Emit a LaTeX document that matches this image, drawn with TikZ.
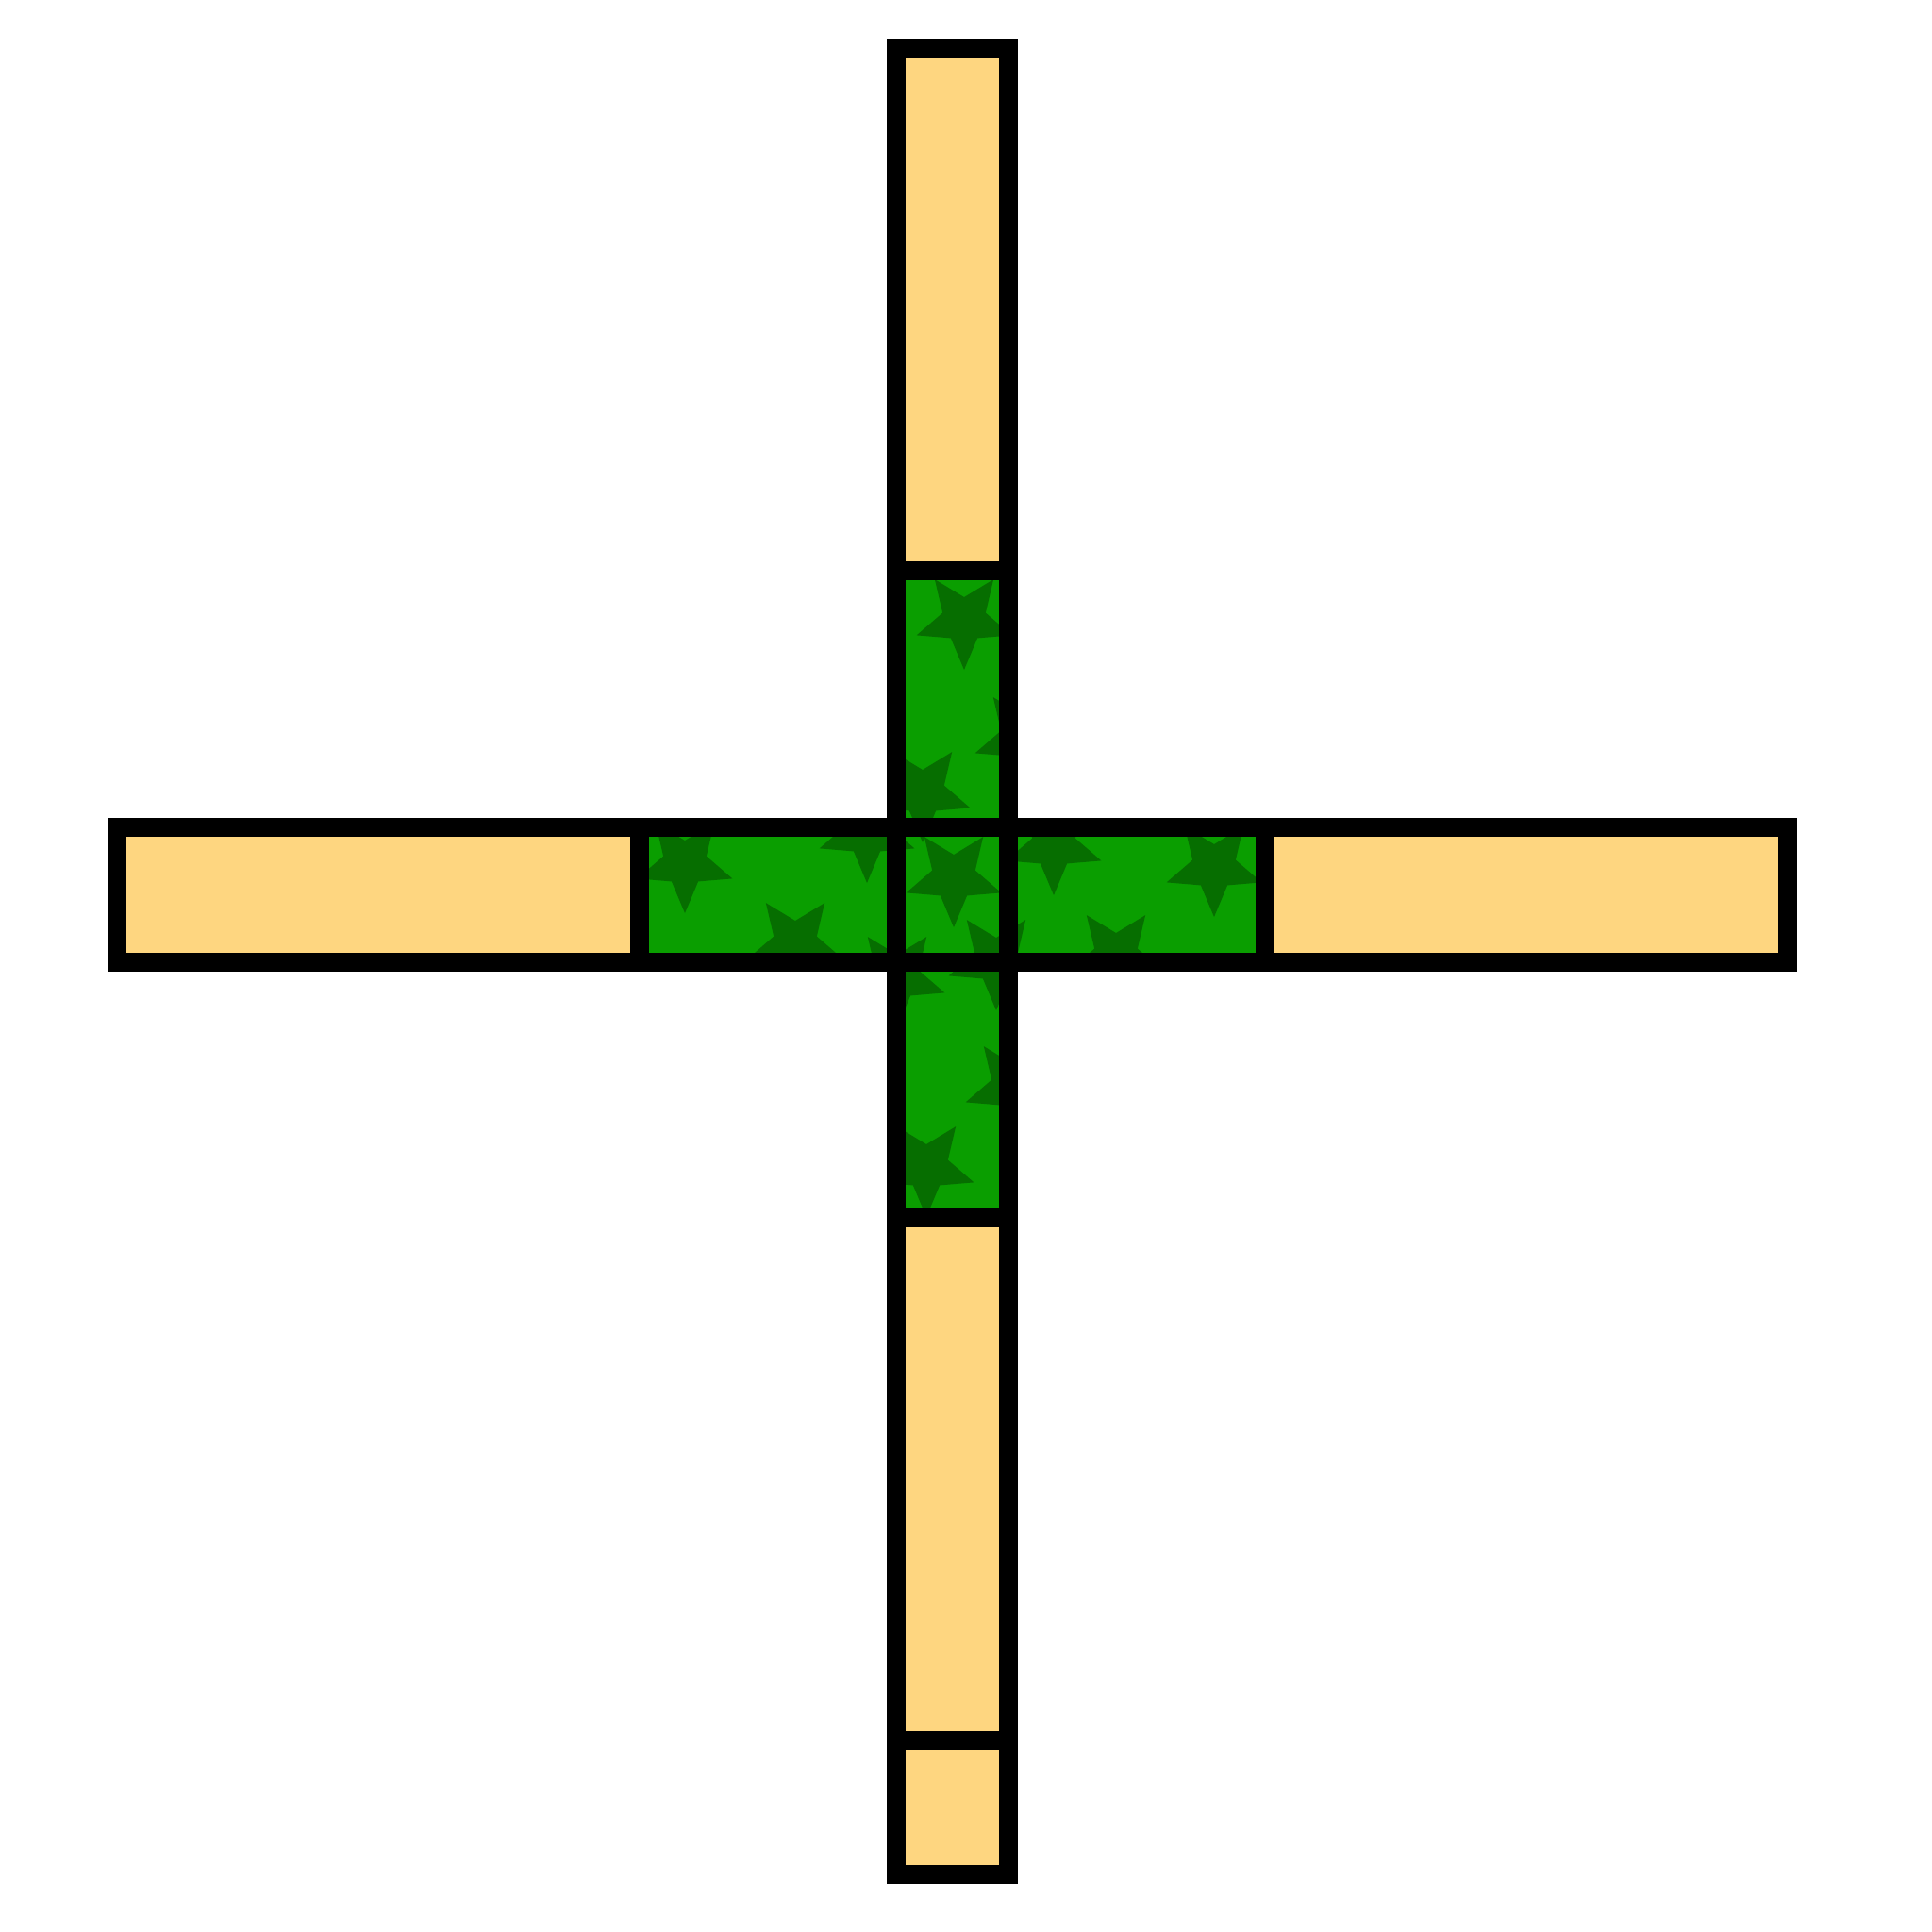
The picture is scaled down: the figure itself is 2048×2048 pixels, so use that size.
\documentclass[tikz,border=0pt]{standalone}
\usetikzlibrary{calc}
\definecolor{cyellow}{HTML}{FED680}
\definecolor{cgreen}{HTML}{0A9E00}
\definecolor{cdark}{HTML}{066E00}
\tikzset{
  plank/.style={fill=cyellow},
  grass/.style={fill=cgreen},
  starmark/.style={fill=cdark},
  edge/.style={draw=black, line width=0.2cm, line join=miter},
}

\begin{document}
\begin{tikzpicture}[x=0.01cm, y=-0.01cm]
  \useasboundingbox (0,0) rectangle (2048,2048);
  \coordinate (hbarA) at (124,877);  \coordinate (hbarB) at (1895,1020);
  \coordinate (vbarA) at (950,51);   \coordinate (vbarB) at (1069,1987);
  \coordinate (hmidA) at (678,877);  \coordinate (hmidB) at (1341,1020);
  \coordinate (vmidA) at (950,605);  \coordinate (vmidB) at (1069,1291);
  \fill[plank] (hbarA) rectangle (hbarB);
  \fill[plank] (vbarA) rectangle (vbarB);
  \fill[grass] (hmidA) rectangle (hmidB) (vmidA) rectangle (vmidB);
  \begin{scope}
    \clip (hmidA) rectangle (hmidB) (vmidA) rectangle (vmidB);
    \foreach \cx/\cy in {1022/657, 1084/782, 978/840, 919/883, 1117/896, 726/915, 1287/919,
                         1011/930, 843/1000, 1183/1013, 1056/1018, 951/1036, 1074/1152, 982/1237}
      \fill[starmark, shift={(\cx,\cy)}] plot[samples at={0,...,9}, variable=\k]
        ({90+36*\k}:{ifthenelse(mod(\k,2)==0,53,24)}) -- cycle;
  \end{scope}
  \draw[edge] (hbarA) rectangle (hbarB);
  \draw[edge] (vbarA) rectangle (vbarB);
  \draw[edge] (hmidA) -- (hmidA |- hbarB);
  \draw[edge] (hmidB |- hbarA) -- (hmidB);
  \draw[edge] (vmidA) -- (vbarB |- vmidA);
  \draw[edge] (vbarA |- vmidB) -- (vmidB);
  \draw[edge] (950,1845) -- (1069,1845);
\end{tikzpicture}
\end{document}
